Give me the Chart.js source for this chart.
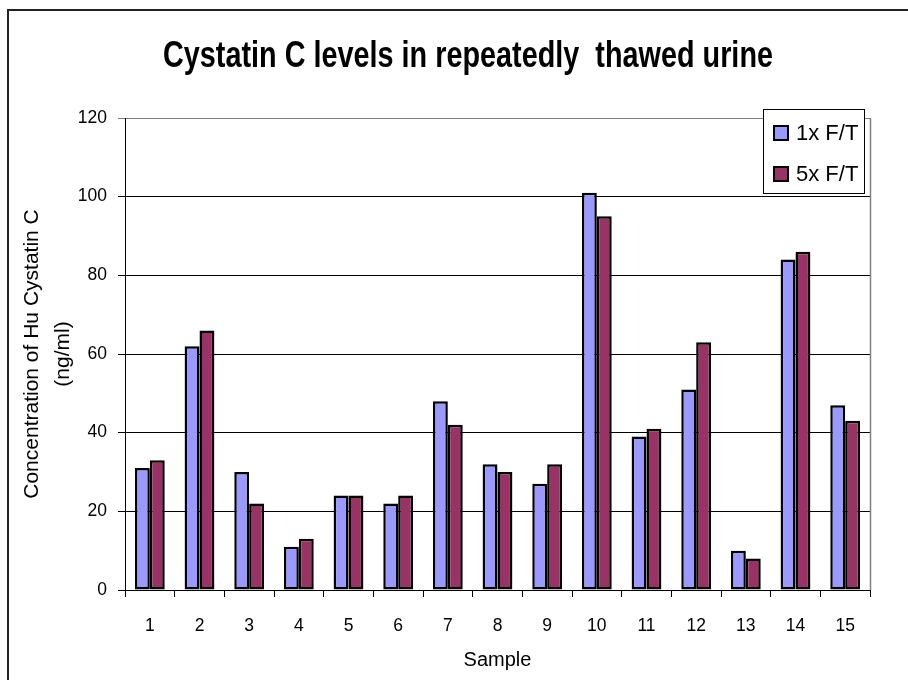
<!DOCTYPE html>
<html><head><meta charset="utf-8">
<script src="https://cdn.jsdelivr.net/npm/chart.js@4.4.1/dist/chart.umd.min.js"></script>
<style>html,body{margin:0;padding:0;background:#fff;overflow:hidden}</style>
</head><body>
<div style="width:908px;height:680px;position:relative"><canvas id="c" width="908" height="680"></canvas></div>
<script>
const chartTitle = 'Cystatin C levels in repeatedly  thawed urine';
const samples = ['1','2','3','4','5','6','7','8','9','10','11','12','13','14','15'];
const series1Label = '1x F/T';
const series1 = [31, 62, 30, 11, 24, 22, 48, 32, 27, 101, 39, 51, 10, 84, 47];
const series2Label = '5x F/T';
const series2 = [33, 66, 22, 13, 24, 24, 42, 30, 32, 95, 41, 63, 8, 86, 43];
const yMin = 0, yMax = 120, yStep = 20;
const xAxisTitle = 'Sample';
const yAxisTitle = ['Concentration of Hu Cystatin C', '(ng/ml)'];

const FONT = "'Liberation Sans', Arial, Helvetica, sans-serif";

const decor = {
  id: 'decor',
  beforeDraw(chart) {
    const ctx = chart.ctx;
    ctx.save();
    ctx.fillStyle = '#fff';
    ctx.fillRect(0, 0, chart.width, chart.height);
    ctx.strokeStyle = '#222';
    ctx.lineWidth = 2;
    ctx.strokeRect(8, 10, chart.width + 20, chart.height + 20);
    ctx.restore();
  },
  beforeDatasetsDraw(chart) {
    const ctx = chart.ctx, a = chart.chartArea;
    ctx.save();
    ctx.strokeStyle = '#808080';
    ctx.lineWidth = 1.5;
    ctx.beginPath();
    ctx.moveTo(a.right + 0.5, a.top);
    ctx.lineTo(a.right + 0.5, a.bottom);
    ctx.stroke();
    ctx.restore();
  },
  afterDraw(chart) {
    const ctx = chart.ctx;
    ctx.save();
    ctx.font = 'bold 37px ' + FONT;
    ctx.fillStyle = '#000';
    ctx.textBaseline = 'alphabetic';
    ctx.textAlign = 'center';
    const w = ctx.measureText(chartTitle).width;
    const sx = 610 / w;
    ctx.translate(468, 67);
    ctx.scale(sx, 1);
    ctx.fillText(chartTitle, 0, 0);
    ctx.restore();

    ctx.save();
    const bx = 763, by = 109, bw = 101, bh = 84;
    ctx.fillStyle = '#fff';
    ctx.fillRect(bx, by, bw, bh);
    ctx.strokeStyle = '#000';
    ctx.lineWidth = 1;
    ctx.strokeRect(bx + 0.5, by + 0.5, bw, bh);
    ctx.font = '22px ' + FONT;
    ctx.textBaseline = 'middle';
    ctx.textAlign = 'left';
    const rows = [133, 174];
    chart.data.datasets.forEach((ds, i) => {
      const cy = rows[i];
      ctx.fillStyle = ds.backgroundColor;
      ctx.fillRect(774, cy - 7, 14, 14);
      ctx.strokeStyle = '#000';
      ctx.lineWidth = 2;
      ctx.strokeRect(774, cy - 7, 14, 14);
      ctx.fillStyle = '#000';
      ctx.fillText(ds.label, 796, cy + 1);
    });
    ctx.restore();
  }
};

new Chart(document.getElementById('c'), {
  type: 'bar',
  data: {
    labels: samples,
    datasets: [
      { label: series1Label, data: series1, backgroundColor: '#9999FF', borderColor: '#000', borderWidth: 2.5, borderSkipped: false, categoryPercentage: 0.6, barPercentage: 1.0 },
      { label: series2Label, data: series2, backgroundColor: '#993366', borderColor: '#000', borderWidth: 2.5, borderSkipped: false, categoryPercentage: 0.6, barPercentage: 1.0 }
    ]
  },
  options: {
    responsive: false,
    animation: false,
    devicePixelRatio: 1,
    layout: { padding: { left: 0, right: 38, top: 118, bottom: 0 } },
    plugins: {
      legend: { display: false },
      title: { display: false },
      tooltip: { enabled: false }
    },
    scales: {
      x: {
        offset: true,
        grid: { offset: true, drawOnChartArea: false, drawTicks: true, tickLength: 7, color: '#000', lineWidth: 1 },
        border: { display: true, color: '#000', width: 1 },
        ticks: { color: '#000', font: { family: FONT, size: 17.5 }, padding: 19, maxRotation: 0, autoSkip: false },
        title: { display: true, text: xAxisTitle, color: '#000', font: { family: FONT, size: 20, lineHeight: 1.2 }, padding: { top: 0, bottom: 8 } },
        afterFit(s) { s.height = 90; }
      },
      y: {
        min: yMin, max: yMax,
        ticks: { stepSize: yStep, color: '#000', font: { family: FONT, size: 17.5 }, padding: 11 },
        grid: { color: (c) => (c.tick && c.tick.value === yMax ? '#808080' : '#000'), lineWidth: 1, tickLength: 7, drawTicks: true },
        border: { display: true, color: '#000', width: 1 },
        title: { display: true, text: yAxisTitle, color: '#000', font: { family: FONT, size: 21, lineHeight: 1.5 }, padding: { top: 16, bottom: 0 } },
        afterFit(s) { s.width = 125; }
      }
    }
  },
  plugins: [decor]
});
</script>
</body></html>
